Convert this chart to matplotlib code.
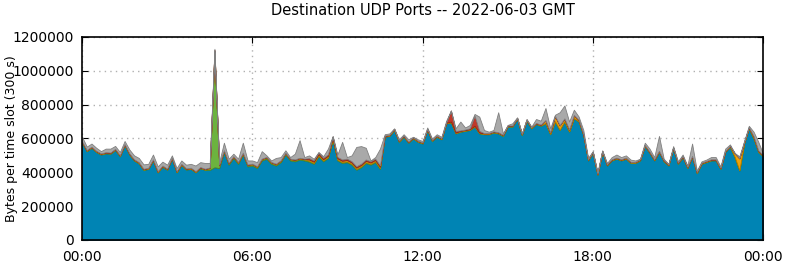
import numpy as np
import matplotlib
matplotlib.use("Agg")
import matplotlib.pyplot as plt
from matplotlib.ticker import FuncFormatter

# 10-minute samples over the day (thousands of bytes per 300 s slot), 00:00 .. 24:00
blue = [
    575, 525, 545, 520, 505, 512, 510, 532, 495, 560,
    505, 470, 453, 414, 420, 470, 400, 433, 415, 480,
    400, 443, 416, 420, 400, 424, 414, 414, 430, 425,
    520, 445, 485, 450, 505, 435, 440, 425, 470, 480,
    450, 440, 460, 505, 470, 465, 475, 470, 463, 450,
    495, 465, 485, 590, 470, 455, 460, 445, 415, 430,
    455, 445, 460, 420, 610, 615, 650, 580, 610, 575,
    600, 580, 570, 650, 585, 610, 595, 688, 695, 630,
    640, 645, 650, 670, 630, 625, 625, 635, 630, 615,
    670, 670, 715, 620, 705, 660, 685, 675, 690, 625,
    700, 650, 700, 640, 720, 700, 620, 470, 515, 385,
    520, 440, 470, 480, 470, 480, 455, 455, 470, 555,
    515, 470, 520, 465, 440, 540, 450, 490, 425, 490,
    395, 450, 460, 470, 470, 420, 520, 550, 490, 410,
    570, 660, 600, 520, 495]

# top of the whole stack
total = [
    610, 552, 570, 545, 525, 540, 540, 556, 520, 585,
    535, 500, 485, 447, 450, 505, 435, 463, 445, 500,
    425, 470, 445, 450, 440, 460, 455, 455, 1130, 460,
    575, 480, 510, 480, 575, 470, 470, 460, 525, 500,
    470, 485, 490, 530, 490, 510, 590, 490, 500, 480,
    520, 495, 540, 615, 505, 580, 490, 500, 550, 555,
    545, 470, 490, 540, 625, 630, 660, 595, 625, 595,
    610, 595, 585, 665, 600, 625, 610, 705, 765, 660,
    700, 665, 680, 745, 729, 650, 640, 650, 755, 630,
    680, 690, 725, 630, 715, 670, 715, 705, 780, 660,
    740, 755, 795, 700, 770, 730, 650, 485, 525, 400,
    530, 455, 490, 505, 490, 500, 475, 470, 480, 575,
    540, 490, 615, 480, 450, 555, 465, 505, 440, 570,
    410, 465, 475, 490, 490, 435, 540, 565, 510, 495,
    585, 675, 640, 580, 510]

green = [
    2, 2, 2, 2, 2, 2, 2, 2, 2, 2,
    2, 2, 2, 2, 2, 2, 2, 2, 2, 2,
    2, 2, 2, 2, 2, 2, 2, 10, 670, 15,
    6, 6, 6, 6, 6, 6, 6, 6, 6, 6,
    6, 6, 6, 6, 6, 6, 6, 6, 5, 5,
    5, 5, 5, 5, 5, 5, 5, 5, 5, 5,
    5, 5, 5, 5, 2, 2, 2, 2, 2, 2,
    2, 2, 2, 2, 2, 2, 2, 2, 2, 2,
    2, 2, 2, 2, 2, 2, 2, 2, 2, 2,
    2, 2, 2, 2, 2, 2, 2, 2, 2, 2,
    2, 2, 2, 2, 2, 2, 2, 2, 2, 2,
    2, 2, 2, 2, 2, 2, 2, 2, 2, 2,
    2, 2, 2, 2, 2, 2, 2, 2, 2, 2,
    2, 2, 2, 2, 2, 2, 2, 2, 2, 2,
    2, 2, 2, 2, 2]

orange = [
    3, 3, 3, 3, 3, 3, 3, 3, 3, 3,
    3, 3, 3, 3, 3, 3, 3, 3, 3, 3,
    3, 3, 3, 3, 3, 3, 3, 3, 20, 3,
    3, 3, 3, 3, 3, 3, 3, 3, 3, 3,
    3, 3, 3, 3, 3, 3, 3, 3, 8, 8,
    8, 8, 8, 8, 8, 8, 8, 8, 8, 8,
    8, 8, 8, 8, 3, 3, 3, 3, 3, 3,
    3, 3, 3, 3, 3, 3, 3, 3, 3, 3,
    3, 3, 3, 3, 3, 3, 3, 3, 3, 3,
    3, 3, 3, 3, 3, 3, 3, 3, 15, 8,
    30, 25, 15, 10, 15, 8, 3, 3, 3, 3,
    3, 3, 3, 3, 3, 3, 3, 3, 3, 3,
    3, 3, 3, 3, 3, 3, 3, 3, 3, 3,
    3, 3, 3, 3, 3, 3, 3, 3, 20, 70,
    5, 3, 10, 5, 3]

red = [
    2, 2, 2, 2, 2, 2, 2, 2, 2, 2,
    2, 2, 2, 2, 2, 2, 2, 2, 2, 2,
    2, 2, 2, 2, 2, 2, 2, 2, 2, 2,
    2, 2, 2, 2, 2, 2, 2, 2, 2, 2,
    2, 2, 2, 2, 2, 2, 2, 2, 8, 8,
    8, 8, 8, 8, 8, 8, 8, 8, 8, 8,
    8, 8, 8, 8, 2, 2, 2, 2, 2, 2,
    2, 2, 2, 2, 2, 2, 2, 2, 65, 10,
    3, 3, 5, 60, 10, 2, 2, 2, 2, 2,
    2, 2, 2, 2, 2, 2, 2, 2, 2, 2,
    2, 2, 2, 2, 2, 2, 2, 2, 2, 2,
    2, 2, 2, 2, 2, 2, 2, 2, 2, 2,
    2, 2, 2, 2, 2, 2, 2, 2, 2, 2,
    2, 2, 2, 2, 2, 2, 2, 2, 2, 2,
    2, 2, 2, 2, 2]

tick_labels = ["00:00", "06:00", "12:00", "18:00", "00:00"]

blue_a = np.array(blue) * 1000.0
green_a = np.array(green) * 1000.0
orange_a = np.array(orange) * 1000.0
red_a = np.array(red) * 1000.0
gray_a = np.clip(np.array(total) * 1000.0 - blue_a - green_a - orange_a - red_a, 0, None)

hours = np.arange(len(blue)) / 6.0

fig = plt.figure(figsize=(7.85, 2.64), dpi=100)
ax = fig.add_axes([0.1045, 0.091, 0.8675, 0.769])

fills = ["#0084b4", "#6cb33f", "#f0a30a", "#c0392b", "#a9a9a9"]
edges = ["#005f85", "#4a8a25", "#b87800", "#8e2418", "#808080"]
polys = ax.stackplot(hours, blue_a, green_a, orange_a, red_a, gray_a,
                     colors=fills, linewidth=0.6)
for p, ec in zip(polys, edges):
    p.set_edgecolor(ec)

ax.set_xlim(0, 24)
ax.set_ylim(0, 1200000)
ax.set_xticks([0, 6, 12, 18, 24])
ax.set_xticklabels(tick_labels)
ax.set_yticks(np.arange(0, 1200001, 200000))
ax.yaxis.set_major_formatter(FuncFormatter(lambda v, p: "%d" % v))

ax.set_axisbelow(True)
ax.grid(True, linestyle=(0, (1, 3)), color="#b0b0b0", linewidth=1)
ax.tick_params(direction="in", top=True, right=True, labelsize=10, length=4)
ax.tick_params(axis="y", pad=6)
ax.tick_params(axis="x", pad=7)
for s in ax.spines.values():
    s.set_linewidth(1.2)

ax.set_ylabel("Bytes per time slot (300 s)", fontsize=9)
ax.yaxis.set_label_coords(-0.094, 0.5)
ax.set_title("Destination UDP Ports -- 2022-06-03 GMT", fontsize=10.5, pad=16)

fig.savefig("out.png", dpi=100)
